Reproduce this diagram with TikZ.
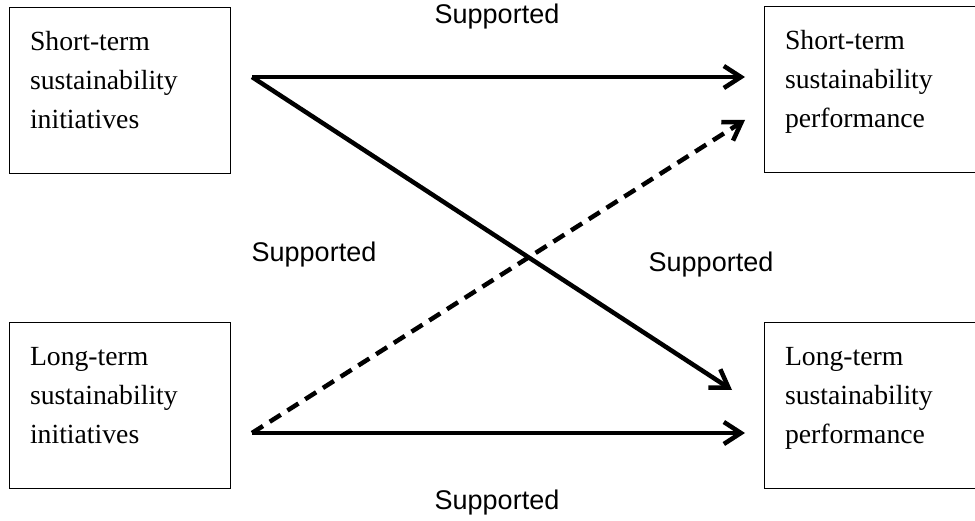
\documentclass[tikz,border=0pt]{standalone}
\usepackage{fontspec}
\setmainfont{Liberation Serif}
\setsansfont{Liberation Sans}
\usepackage{tikz}
\usetikzlibrary{arrows.meta}
\tikzset{box/.style = {shape = rectangle, draw, line width = 0.8pt, minimum width = 221pt, minimum height = 166pt, text width = 179pt, inner xsep = 21pt, align = left, font = \fontsize{27.7}{39}\selectfont}}
\tikzset{lbl/.style = {font = \sffamily\fontsize{27}{32}\selectfont}}
\tikzset{edge/.style = {line width = 4.5pt, -{Straight Barb[length = 17pt, width = 22pt]}}}
\tikzset{dashededge/.style = {edge, dash pattern = on 13pt off 8pt}}

\begin{document}
\begin{tikzpicture}[x = 1pt, y = -1pt]
			\useasboundingbox (0, 0) rectangle (975, 521);

			\node[box] (sti) at (119.5, 90) {Short-term\\sustainability\\initiatives\rule[-20pt]{0pt}{0pt}};
			\node[box] (lti) at (119.5, 405) {Long-term\\sustainability\\initiatives\rule[-20pt]{0pt}{0pt}};
			\node[box] (stp) at (874.5, 89) {Short-term\\sustainability\\performance\rule[-20pt]{0pt}{0pt}};
			\node[box] (ltp) at (874.5, 405) {Long-term\\sustainability\\performance\rule[-20pt]{0pt}{0pt}};

			\coordinate (sti out) at (252, 77);
			\coordinate (lti out) at (252, 433);
			\coordinate (stp in) at (745, 77);
			\coordinate (stp in2) at (745, 120);
			\coordinate (ltp in) at (732, 390);
			\coordinate (ltp in2) at (745, 433);

			\draw[edge] (sti out) to (stp in);
			\draw[edge] (sti out) to (ltp in);
			\draw[dashededge] (lti out) to (stp in2);
			\draw[edge] (lti out) to (ltp in2);

			\node[lbl] (s1) at (497, 17) {Supported};
			\node[lbl] (s2) at (314, 255) {Supported};
			\node[lbl] (s3) at (711, 265) {Supported};
			\node[lbl] (s4) at (497, 503) {Supported};
		\end{tikzpicture}
\end{document}
